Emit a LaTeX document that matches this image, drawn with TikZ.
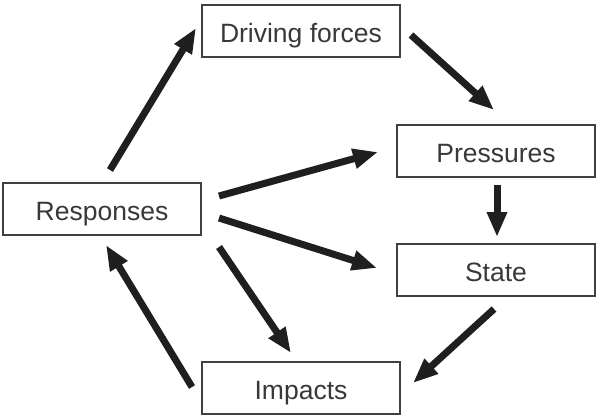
\documentclass[tikz,border=0pt]{standalone}
\usepackage{fontspec}
\setmainfont{Liberation Sans}
\usetikzlibrary{arrows.meta}
\begin{document}
\begin{tikzpicture}[x=1pt,y=-1pt,
  box/.style={draw=black!75,line width=1.6pt,fill=white,minimum width=198pt,minimum height=52pt,inner sep=0pt,text height=22pt,text depth=0pt,font=\fontsize{26.5}{30}\selectfont,text=black!78},
  arr/.style={line width=7pt,black!88,-{Triangle[length=25pt,width=19pt]}}]
\useasboundingbox (0,0) rectangle (596,416);
\node[box] (drive) at (301,31) {Driving forces};
\node[box] (press) at (496,151) {Pressures};
\node[box] (resp) at (102,209) {Responses};
\node[box] (state) at (496,270) {State};
\node[box] (imp) at (301,388) {Impacts};
\coordinate (a1) at (110,170); \coordinate (b1) at (196,28);
\coordinate (a2) at (411,35); \coordinate (b2) at (494,110);
\coordinate (a3) at (219,196); \coordinate (b3) at (378,152);
\coordinate (a4) at (219,218); \coordinate (b4) at (377,268);
\coordinate (a5) at (219,247); \coordinate (b5) at (291,353);
\coordinate (a6) at (497,185); \coordinate (b6) at (497,237);
\coordinate (a7) at (494,309); \coordinate (b7) at (413,383);
\coordinate (a8) at (192,387); \coordinate (b8) at (106,245);
\draw[arr] (a1) -- (b1);
\draw[arr] (a2) -- (b2);
\draw[arr] (a3) -- (b3);
\draw[arr] (a4) -- (b4);
\draw[arr] (a5) -- (b5);
\draw[arr] (a6) -- (b6);
\draw[arr] (a7) -- (b7);
\draw[arr] (a8) -- (b8);
\end{tikzpicture}
\end{document}
